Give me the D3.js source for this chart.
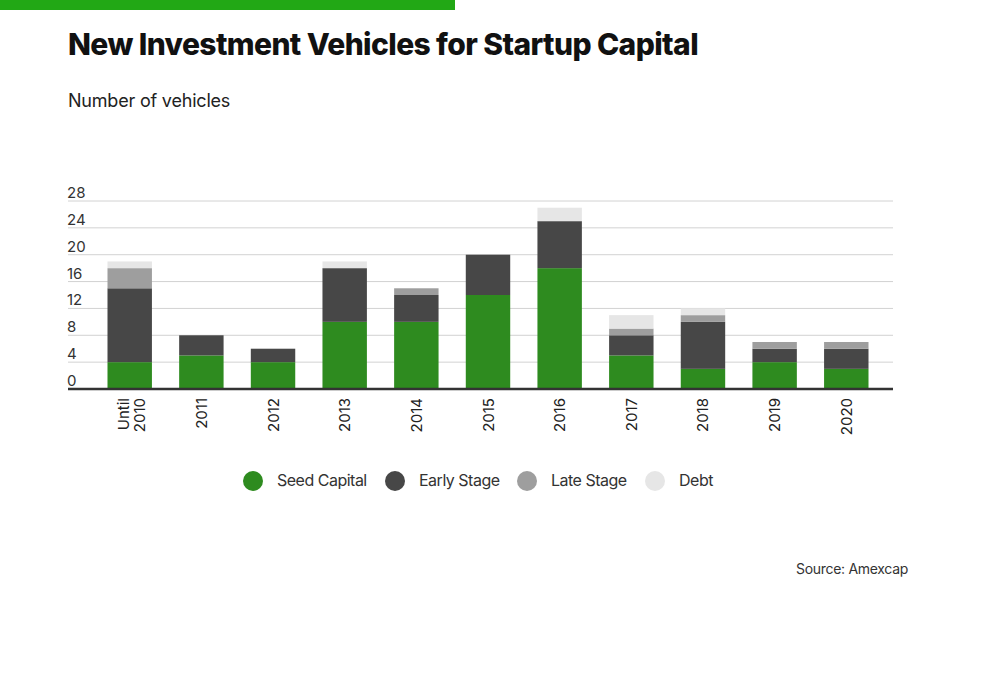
<!DOCTYPE html>
<html><head><meta charset="utf-8">
<script src="https://cdn.jsdelivr.net/npm/d3@7"></script>
<style>body{margin:0;background:#fff;font-family:Inter,"Noto Sans",sans-serif;}</style>
</head><body>
<script>
const data = [
	{year: 'Until\n2010', seed: 4, early: 11, late: 3, debt: 1},
	{year: '2011', seed: 5, early: 3, late: 0, debt: 0},
	{year: '2012', seed: 4, early: 2, late: 0, debt: 0},
	{year: '2013', seed: 10, early: 8, late: 0, debt: 1},
	{year: '2014', seed: 10, early: 4, late: 1, debt: 0},
	{year: '2015', seed: 14, early: 6, late: 0, debt: 0},
	{year: '2016', seed: 18, early: 7, late: 0, debt: 2},
	{year: '2017', seed: 5, early: 3, late: 1, debt: 2},
	{year: '2018', seed: 3, early: 7, late: 1, debt: 1},
	{year: '2019', seed: 4, early: 2, late: 1, debt: 0},
	{year: '2020', seed: 3, early: 3, late: 1, debt: 0}
];
const keys = ['seed', 'early', 'late', 'debt'];
const labels = ['Seed Capital', 'Early Stage', 'Late Stage', 'Debt'];
const colors = ['#2e8b1f', '#474747', '#9e9e9e', '#e6e6e6'];

const svg = d3.select('body').append('svg').attr('width', 1000).attr('height', 684);
svg.append('rect').attr('x', 0).attr('y', 0).attr('width', 455).attr('height', 10).attr('fill', '#22a815');
svg.append('text').attr('x', 68).attr('y', 55).text('New Investment Vehicles for Startup Capital')
	.attr('font-size', 30).attr('font-weight', 800).attr('letter-spacing', -0.6).attr('fill', '#111');
svg.append('text').attr('x', 68).attr('y', 107).text('Number of vehicles')
	.attr('font-size', 18).attr('letter-spacing', -0.2).attr('fill', '#222');

const x = d3.scaleBand().domain(data.map(d => d.year)).range([86, 890]).paddingInner(0.38).paddingOuter(0.3);
const y = d3.scaleLinear().domain([0, 28]).range([389, 201]);

const grid = svg.append('g');
d3.range(0, 29, 4).forEach(t => {
	if (t > 0) {
		grid.append('line').attr('x1', 68).attr('x2', 893).attr('y1', y(t)).attr('y2', y(t))
			.attr('stroke', '#d2d2d2').attr('stroke-width', 1);
	}
	grid.append('text').attr('x', 67).attr('y', y(t) - 3).text(t).attr('font-size', 15).attr('fill', '#333');
});

const stacked = d3.stack().keys(keys)(data);
svg.append('g').selectAll('g').data(stacked).enter().append('g')
	.attr('fill', (d, i) => colors[i])
	.selectAll('rect').data(d => d).enter().append('rect')
	.attr('x', d => x(d.data.year))
	.attr('width', x.bandwidth())
	.attr('y', d => y(d[1]))
	.attr('height', d => y(d[0]) - y(d[1]));

svg.append('line').attr('x1', 68).attr('x2', 893).attr('y1', y(0)).attr('y2', y(0))
	.attr('stroke', '#333').attr('stroke-width', 2.5);

data.forEach(d => {
	const lines = d.year.split('\n');
	const cx = x(d.year) + x.bandwidth() / 2;
	const t = svg.append('text').attr('transform', `translate(${cx},398) rotate(-90)`)
		.attr('text-anchor', 'end').attr('font-size', 15).attr('fill', '#222');
	lines.forEach((l, i) => {
		t.append('tspan').attr('x', 0).attr('dy', i === 0 ? (lines.length > 1 ? -1 : 5.5) : 16).text(l);
	});
});

const lg = svg.append('g');
const lx = [253, 395, 527, 655];
labels.forEach((l, i) => {
	lg.append('circle').attr('cx', lx[i]).attr('cy', 481).attr('r', 10).attr('fill', colors[i]);
	lg.append('text').attr('x', lx[i] + 24).attr('y', 486).text(l).attr('font-size', 16)
		.attr('letter-spacing', -0.5).attr('fill', '#333');
});

svg.append('text').attr('x', 908).attr('y', 574).attr('text-anchor', 'end').text('Source: Amexcap')
	.attr('font-size', 14).attr('letter-spacing', -0.3).attr('fill', '#333');
</script>
</body></html>
